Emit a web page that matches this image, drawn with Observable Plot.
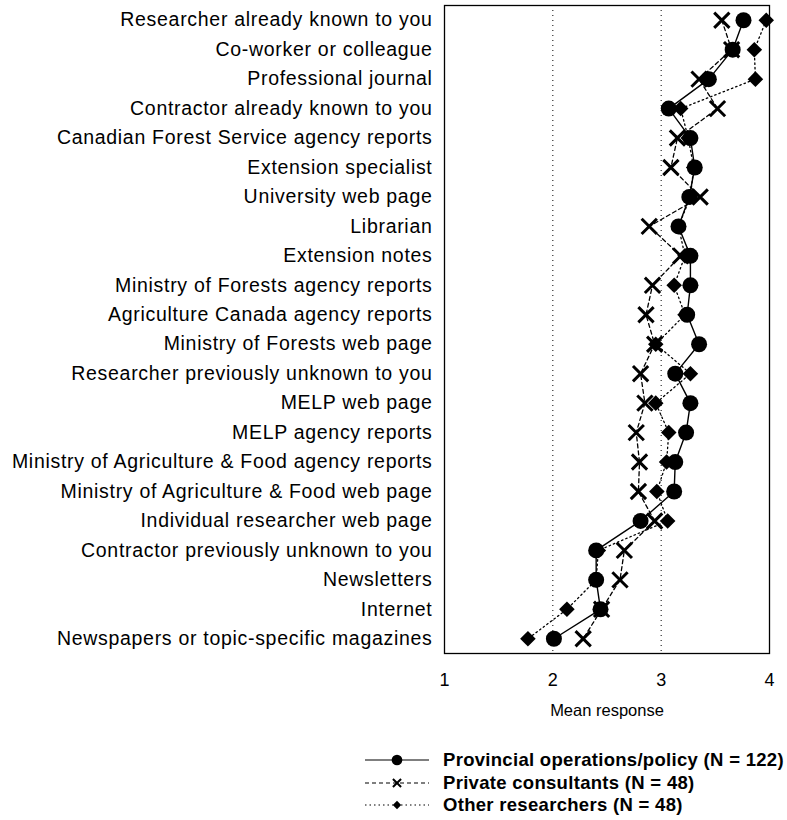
<!DOCTYPE html>
<html><head><meta charset="utf-8">
<script src="https://cdn.jsdelivr.net/npm/d3@7"></script>
<script src="https://cdn.jsdelivr.net/npm/@observablehq/plot@0.6"></script>
<style>
body{margin:0;background:#fff;font-family:"Liberation Sans",Arial,sans-serif;}
#wrap{position:relative;width:787px;height:820px;}
g[aria-label="y-axis tick label"]{letter-spacing:0.7px;}
.item{position:absolute;left:364px;height:22px;display:flex;align-items:center;white-space:nowrap;}
.item span{font-weight:bold;font-size:18.5px;letter-spacing:0.3px;margin-left:13px;color:#000;}
</style>
</head><body>
<div id="wrap"><div id="chart"></div><div id="legend"></div></div>
<script>
const categories = [
  "Researcher already known to you",
  "Co-worker or colleague",
  "Professional journal",
  "Contractor already known to you",
  "Canadian Forest Service agency reports",
  "Extension specialist",
  "University web page",
  "Librarian",
  "Extension notes",
  "Ministry of Forests agency reports",
  "Agriculture Canada agency reports",
  "Ministry of Forests web page",
  "Researcher previously unknown to you",
  "MELP web page",
  "MELP agency reports",
  "Ministry of Agriculture & Food agency reports",
  "Ministry of Agriculture & Food web page",
  "Individual researcher web page",
  "Contractor previously unknown to you",
  "Newsletters",
  "Internet",
  "Newspapers or topic-specific magazines"
];
const provincial  = [3.76, 3.66, 3.44, 3.07, 3.27, 3.31, 3.26, 3.16, 3.27, 3.27, 3.24, 3.35, 3.13, 3.27, 3.23, 3.13, 3.12, 2.81, 2.40, 2.40, 2.44, 2.01];
const consultants = [3.56, 3.65, 3.35, 3.52, 3.15, 3.09, 3.36, 2.89, 3.18, 2.92, 2.86, 2.94, 2.81, 2.85, 2.77, 2.80, 2.79, 2.94, 2.66, 2.62, 2.45, 2.28];
const researchers = [3.97, 3.86, 3.87, 3.18, 3.25, 3.30, 3.27, 3.16, 3.22, 3.12, 3.22, 2.95, 3.27, 2.95, 3.07, 3.05, 2.96, 3.06, 2.42, 2.40, 2.13, 1.77];
const seriesNames = ["Provincial operations/policy (N = 122)", "Private consultants (N = 48)", "Other researchers (N = 48)"];
const xTicks = [1, 2, 3, 4];
const gridValues = [2, 3];
const xTitle = "Mean response";

const toRows = (vals) => categories.map((c, i) => ({category: c, value: vals[i]}));
const prov = toRows(provincial), cons = toRows(consultants), res = toRows(researchers);

const chart = Plot.plot({
  width: 787,
  height: 732,
  marginLeft: 444,
  marginRight: 18,
  marginTop: 5,
  marginBottom: 79,
  style: {fontFamily: '"Liberation Sans", Arial, sans-serif', fontSize: "15px", color: "#000", background: "#fff", overflow: "visible"},
  x: {domain: [1, 4], ticks: xTicks, label: null},
  y: {type: "point", domain: categories, padding: 0.5, round: false, label: null},
  marks: [
    Plot.ruleX(gridValues, {stroke: "#000", strokeWidth: 1, strokeDasharray: "1,4"}),
    Plot.frame({stroke: "#000", strokeWidth: 1.3}),
    Plot.axisY({tickSize: 0, tickPadding: 12, fontSize: 19.5, label: null}),
    Plot.axisX({ticks: xTicks, tickFormat: d3.format("d"), tickSize: 0, tickPadding: 20, fontSize: 18, label: null}),
    Plot.text([xTitle], {frameAnchor: "bottom", dy: 62, fontSize: 16.5, text: d => d}),
    Plot.line(res, {x: "value", y: "category", stroke: "#000", strokeWidth: 1.3, strokeDasharray: "1.5,3"}),
    Plot.line(cons, {x: "value", y: "category", stroke: "#000", strokeWidth: 1.3, strokeDasharray: "4,3"}),
    Plot.line(prov, {x: "value", y: "category", stroke: "#000", strokeWidth: 1.4}),
    Plot.dot(res, {x: "value", y: "category", symbol: "diamond2", fill: "#000", r: 7}),
    Plot.dot(cons, {x: "value", y: "category", symbol: "times", stroke: "#000", strokeWidth: 3, r: 7}),
    Plot.dot(prov, {x: "value", y: "category", symbol: "circle", fill: "#000", r: 8})
  ]
});
document.getElementById("chart").appendChild(chart);

// legend
const legendSpecs = [
  {name: seriesNames[0], dash: null, symbol: d3.symbolCircle, size: 90, fill: "#000", stroke: "none", sw: 0, top: 749},
  {name: seriesNames[1], dash: "4,3", symbol: d3.symbolTimes, size: 45, fill: "none", stroke: "#000", sw: 2, top: 772},
  {name: seriesNames[2], dash: "1.5,3", symbol: d3.symbolDiamond2, size: 45, fill: "#000", stroke: "none", sw: 0, top: 794}
];
const wrap = document.getElementById("wrap");
for (const s of legendSpecs) {
  const div = document.createElement("div");
  div.className = "item";
  div.style.top = s.top + "px";
  const svg = d3.create("svg").attr("width", 66).attr("height", 22);
  svg.append("line").attr("x1", 1).attr("x2", 65).attr("y1", 11).attr("y2", 11)
    .attr("stroke", "#000").attr("stroke-width", 1.2).attr("stroke-dasharray", s.dash);
  svg.append("path").attr("d", d3.symbol(s.symbol, s.size)()).attr("transform", "translate(33,11)")
    .attr("fill", s.fill).attr("stroke", s.stroke).attr("stroke-width", s.sw);
  div.appendChild(svg.node());
  const sp = document.createElement("span");
  sp.textContent = s.name;
  div.appendChild(sp);
  wrap.appendChild(div);
}
</script>
</body></html>
